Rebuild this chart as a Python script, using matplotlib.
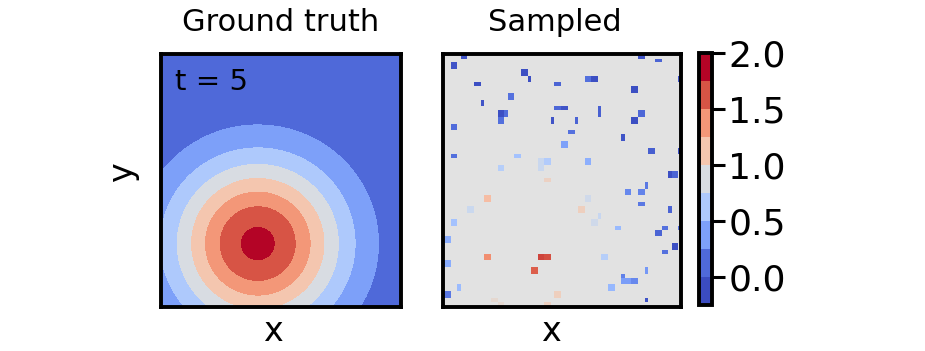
import numpy as np
import matplotlib
matplotlib.use("Agg")
import matplotlib.pyplot as plt
from matplotlib.colors import Normalize

# ---------------- data ----------------
# Ground truth: a single Gaussian bump (axes-fraction units)
gt_center = (0.403, 0.249)
gt_peak = 1.815
gt_sigma = (0.2525, 0.2356)
levels = [-0.25, 0.0, 0.25, 0.5, 0.75, 1.0, 1.25, 1.5, 1.75, 2.0]
cbar_ticks = [0.0, 0.5, 1.0, 1.5, 2.0]
time_label = "t = 5"

# Sampled grid (rows counted from the top)
n_rows, n_cols = 43, 41
sample_rows = [0, 2, 3, 4, 5, 7, 8, 10, 10, 11, 12,
               5, 4, 4, 9, 9, 9, 10, 11, 11, 13,
               0, 1, 4, 6, 10, 11, 14,
               17, 17, 19, 24, 26, 28,
               15, 18, 19, 18, 18, 21, 24, 26, 27, 28,
               16, 16, 20, 20, 22, 23, 23, 25, 26,
               31, 34, 35, 39, 40, 41, 42,
               34, 34, 36, 34, 40, 42,
               29, 30, 29, 29, 32, 33, 36, 37, 38, 38, 38, 39, 41]
sample_cols = [3, 1, 13, 14, 5, 11, 6, 9, 10, 9, 1,
               19, 24, 25, 19, 20, 26, 26, 18, 22, 21,
               33, 36, 40, 32, 33, 32, 30,
               1, 12, 9, 7, 4, 1,
               20, 16, 16, 17, 24, 17, 24, 23, 26, 25,
               35, 40, 38, 39, 34, 31, 33, 33, 38,
               0, 7, 0, 2, 0, 8, 9,
               16, 17, 15, 27, 19, 17,
               29, 36, 37, 40, 39, 37, 34, 30, 30, 31, 32, 28, 34]
sample_vals = [0.04, 0.04, 0.02, 0.02, 0.02, 0.16, 0.04, 0.02, 0.14, 0.15, 0.14,
               0.10, 0.15, 0.02, 0.12, 0.04, 0.09, 0.09, 0.04, 0.10, 0.16,
               0.04, 0.10, 0.04, 0.02, 0.12, 0.02, 0.04,
               0.15, 0.58, 0.67, 1.17, 0.79, 0.58,
               0.38, 0.78, 0.78, 0.65, 0.46, 1.03, 0.82, 1.05, 0.77, 0.82,
               0.08, 0.02, 0.02, 0.10, 0.19, 0.26, 0.24, 0.19, 0.10,
               0.46, 1.41, 0.44, 0.53, 0.19, 0.97, 0.97,
               1.68, 1.64, 1.59, 0.67, 1.05, 1.04,
               0.52, 0.10, 0.16, 0.16, 0.02, 0.16, 0.34, 0.22, 0.36, 0.36, 0.26, 0.51, 0.04]

# ---------------- figure ----------------
plt.rcParams['font.family'] = ['DejaVu Sans']
FS_TITLE = 22
FS_LABEL = 24
FS_TICK = 26
FS_TEXT = 21
fig = plt.figure(figsize=(9.25, 3.51), dpi=100)

ax1 = fig.add_axes([0.1741, 0.1265, 0.2595, 0.7208])
ax2 = fig.add_axes([0.4789, 0.1265, 0.2573, 0.7208])
cax = fig.add_axes([0.7562, 0.131, 0.0130, 0.717])

# shared colour scale: data range of the ground truth
norm = Normalize(0.0, gt_peak)

# ground truth
xs = np.linspace(0, 1, 500)
ys = np.linspace(0, 1, 500)
X, Y = np.meshgrid(xs, ys)
Z = gt_peak * np.exp(-((X - gt_center[0]) ** 2 / (2 * gt_sigma[0] ** 2)
                       + (Y - gt_center[1]) ** 2 / (2 * gt_sigma[1] ** 2)))
cf = ax1.contourf(X, Y, Z, levels=levels, cmap='coolwarm', norm=norm)
ax1.set_xlim(0, 1)
ax1.set_ylim(0, 1)
ax1.text(0.06, 0.945, time_label, transform=ax1.transAxes, fontsize=FS_TEXT,
         ha='left', va='top')
ax1.set_title("Ground truth", fontsize=FS_TITLE, pad=16)
ax1.set_xlabel("x", fontsize=FS_LABEL)
ax1.xaxis.set_label_coords(0.467, -0.035, transform=ax1.transAxes)
ax1.xaxis.label.set_va('top')
ax1.set_ylabel("y", fontsize=FS_LABEL)
ax1.yaxis.set_label_coords(-0.09, 0.53, transform=ax1.transAxes)

# sampled
grid = np.full((n_rows, n_cols), np.nan)
grid[np.array(sample_rows), np.array(sample_cols)] = sample_vals
row_rep = np.resize([2, 1, 2, 2], n_rows)
col_rep = np.resize([2, 2, 1, 2], n_cols)
fine = grid[np.repeat(np.arange(n_rows), row_rep)][:, np.repeat(np.arange(n_cols), col_rep)]
cmap = plt.get_cmap('coolwarm').copy()
cmap.set_bad('#e2e2e2')
ax2.set_facecolor('#e2e2e2')
ax2.imshow(np.ma.masked_invalid(fine), cmap=cmap, norm=norm,
           extent=(0, fine.shape[1], fine.shape[0], 0), interpolation='nearest',
           aspect='auto')
ax2.set_xlim(-0.3, 71.1)
ax2.set_ylim(74.6, 0.38)
ax2.set_title("Sampled", fontsize=FS_TITLE, pad=16, x=0.47)
ax2.set_xlabel("x", fontsize=FS_LABEL)
ax2.xaxis.set_label_coords(0.454, -0.035, transform=ax2.transAxes)
ax2.xaxis.label.set_va('top')

for ax in (ax1, ax2):
    ax.set_xticks([])
    ax.set_yticks([])
    for s in ax.spines.values():
        s.set_linewidth(2.8)

cb = fig.colorbar(cf, cax=cax, ticks=cbar_ticks)
cb.outline.set_linewidth(2.8)
cax.tick_params(labelsize=FS_TICK, length=9, width=2.2, pad=3)
cax.set_yticklabels([f"{t:.1f}" for t in cbar_ticks])

fig.savefig("out.png", dpi=100)
